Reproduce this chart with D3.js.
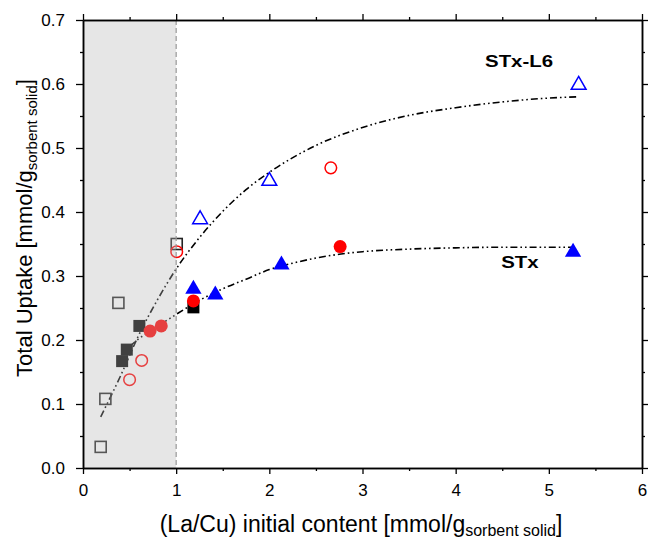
<!DOCTYPE html>
<html><head><meta charset="utf-8">
<script src="https://cdn.jsdelivr.net/npm/d3@7"></script>
<style>body{margin:0;background:#fff}svg{display:block}text{font-family:"Liberation Sans",Arial,sans-serif}</style>
</head><body>
<svg id="c" width="648" height="540"></svg>
<script>
// ---- data ----
const openSquaresX = [0.19, 0.24, 0.38, 1.006];
const openSquaresY = [0.033, 0.108, 0.258, 0.350];
const filledSquaresX = [0.42, 0.47, 0.605, 1.185];
const filledSquaresY = [0.167, 0.185, 0.222, 0.251];
const openCirclesX = [0.50, 0.63, 1.006, 2.66];
const openCirclesY = [0.138, 0.168, 0.338, 0.469];
const filledCirclesX = [0.72, 0.84, 1.185, 2.76];
const filledCirclesY = [0.214, 0.222, 0.261, 0.346];
const openTrianglesX = [1.257, 2.0, 5.32];
const openTrianglesY = [0.390, 0.450, 0.600];
const filledTrianglesX = [1.185, 1.42, 2.13, 5.26];
const filledTrianglesY = [0.281, 0.272, 0.319, 0.339];
const fitL6X = [0.19, 0.4, 0.6, 0.8, 1.0, 1.25, 1.5, 1.75, 2.0, 2.5, 3.0, 3.5, 4.0, 4.5, 5.0, 5.32];
const fitL6Y = [0.080, 0.143, 0.208, 0.263, 0.311, 0.360, 0.401, 0.435, 0.462, 0.504, 0.532, 0.551, 0.563, 0.572, 0.578, 0.580];
const fitSTxX = [0.5, 0.6, 0.72, 0.85, 1.0, 1.25, 1.5, 1.75, 2.0, 2.25, 2.5, 2.75, 3.0, 3.5, 4.0, 4.5, 5.0, 5.3];
const fitSTxY = [0.190, 0.202, 0.214, 0.226, 0.240, 0.262, 0.280, 0.295, 0.310, 0.320, 0.328, 0.334, 0.338, 0.342, 0.344, 0.345, 0.345, 0.345];
const xTicks = [0, 1, 2, 3, 4, 5, 6];
const yTicks = [0, 0.1, 0.2, 0.3, 0.4, 0.5, 0.6, 0.7];
const xMinor = [0.5, 1.5, 2.5, 3.5, 4.5, 5.5];
const yMinor = [0.05, 0.15, 0.25, 0.35, 0.45, 0.55, 0.65];
const shadeRange = [0, 1];
const seriesLabels = [["STx-L6", 4.68, 0.627], ["STx", 4.69, 0.313]];

const svg = d3.select("#c");
const L = 83, R = 642, T = 20, B = 468;
const x = d3.scaleLinear().domain([0, 6]).range([L, R]);
const y = d3.scaleLinear().domain([0, 0.7]).range([B, T]);

const zip = (a, b) => a.map((v, i) => [v, b[i]]);

// fit curves
const line = d3.line().x(d => x(d[0])).y(d => y(d[1])).curve(d3.curveMonotoneX);
[[fitL6X, fitL6Y], [fitSTxX, fitSTxY]].forEach(([xs, ys]) => {
  svg.append("path").attr("d", line(zip(xs, ys)))
    .attr("fill", "none").attr("stroke", "#000").attr("stroke-width", 1.6)
    .attr("stroke-dasharray", "7,3,1.6,3,1.6,3");
});

const g = svg.append("g");
// squares
const sq = 11;
g.selectAll(".os").data(zip(openSquaresX, openSquaresY)).join("rect")
  .attr("x", d => x(d[0]) - sq/2).attr("y", d => y(d[1]) - sq/2).attr("width", sq).attr("height", sq)
  .attr("fill", "none").attr("stroke", "#222").attr("stroke-width", 1.6);
g.selectAll(".fs").data(zip(filledSquaresX, filledSquaresY)).join("rect")
  .attr("x", d => x(d[0]) - 6).attr("y", d => y(d[1]) - 6).attr("width", 12).attr("height", 12)
  .attr("fill", "#000");
// circles
g.selectAll(".oc").data(zip(openCirclesX, openCirclesY)).join("circle")
  .attr("cx", d => x(d[0])).attr("cy", d => y(d[1])).attr("r", 5.8)
  .attr("fill", "none").attr("stroke", "#ff0000").attr("stroke-width", 1.5);
g.selectAll(".fc").data(zip(filledCirclesX, filledCirclesY)).join("circle")
  .attr("cx", d => x(d[0])).attr("cy", d => y(d[1])).attr("r", 6.5)
  .attr("fill", "#ff0000");
// triangles
const tri = d3.symbol().type(d3.symbolTriangle).size(95);
g.selectAll(".ot").data(zip(openTrianglesX, openTrianglesY)).join("path")
  .attr("d", tri).attr("transform", d => `translate(${x(d[0])},${y(d[1]) + 1})`)
  .attr("fill", "none").attr("stroke", "#0000ff").attr("stroke-width", 1.5);
g.selectAll(".ft").data(zip(filledTrianglesX, filledTrianglesY)).join("path")
  .attr("d", d3.symbol().type(d3.symbolTriangle).size(115)).attr("transform", d => `translate(${x(d[0])},${y(d[1]) + 1})`)
  .attr("fill", "#0000ff");

// shaded region overlay
svg.append("rect").attr("x", x(shadeRange[0])).attr("y", T)
  .attr("width", x(shadeRange[1]) - x(shadeRange[0])).attr("height", B - T)
  .attr("fill", "rgb(183,183,183)").attr("fill-opacity", 0.35);
svg.append("line").attr("x1", x(shadeRange[1])).attr("x2", x(shadeRange[1])).attr("y1", T).attr("y2", B)
  .attr("stroke", "#999").attr("stroke-width", 1.2).attr("stroke-dasharray", "5,3");

// labels on chart
seriesLabels.forEach(([t, lx, ly]) => {
  svg.append("text").attr("transform", `translate(${x(lx)},${y(ly)}) scale(1.2,1)`)
    .attr("text-anchor", "middle").attr("font-size", 17).attr("font-weight", "bold").text(t);
});

// axes
function styleAxis(sel) {
  sel.selectAll(".domain").attr("stroke", "#000").attr("stroke-width", 1.5);
  sel.selectAll(".tick line").attr("stroke", "#000").attr("stroke-width", 1.3);
  sel.selectAll("text").attr("font-size", 17).attr("fill", "#000")
    .attr("font-family", "'Liberation Sans', Arial, sans-serif");
}
const ax = (gen, tx, ty) => svg.append("g").attr("transform", `translate(${tx},${ty})`).call(gen).call(styleAxis);

ax(d3.axisBottom(x).tickValues(xTicks).tickFormat(d3.format("d")).tickSize(6).tickSizeOuter(0).tickPadding(10), 0, B);
ax(d3.axisBottom(x).tickValues(xMinor).tickFormat("").tickSize(3).tickSizeOuter(0), 0, B);
ax(d3.axisTop(x).tickValues(xTicks).tickFormat("").tickSize(6).tickSizeOuter(0), 0, T);
ax(d3.axisTop(x).tickValues(xMinor).tickFormat("").tickSize(3).tickSizeOuter(0), 0, T);
ax(d3.axisLeft(y).tickValues(yTicks).tickFormat(d3.format(".1f")).tickSize(7).tickSizeOuter(0).tickPadding(11), L, 0);
ax(d3.axisLeft(y).tickValues(yMinor).tickFormat("").tickSize(3).tickSizeOuter(0), L, 0);
ax(d3.axisRight(y).tickValues(yTicks).tickFormat("").tickSize(6).tickSizeOuter(0), R, 0);
ax(d3.axisRight(y).tickValues(yMinor).tickFormat("").tickSize(3).tickSizeOuter(0), R, 0);

// axis titles
const xt = svg.append("text").attr("x", 361).attr("y", 532).attr("text-anchor", "middle").attr("font-size", 23);
xt.append("tspan").text("(La/Cu) initial content [mmol/g");
xt.append("tspan").attr("font-size", 16).attr("dy", 4).text("sorbent solid");
xt.append("tspan").attr("dy", -4).text("]");

const yt = svg.append("text").attr("transform", `translate(32,228) rotate(-90)`)
  .attr("text-anchor", "middle").attr("font-size", 22);
yt.append("tspan").text("Total Uptake [mmol/g");
yt.append("tspan").attr("font-size", 15).attr("dy", 5).text("sorbent solid");
yt.append("tspan").attr("dy", -5).text("]");
</script>
</body></html>
